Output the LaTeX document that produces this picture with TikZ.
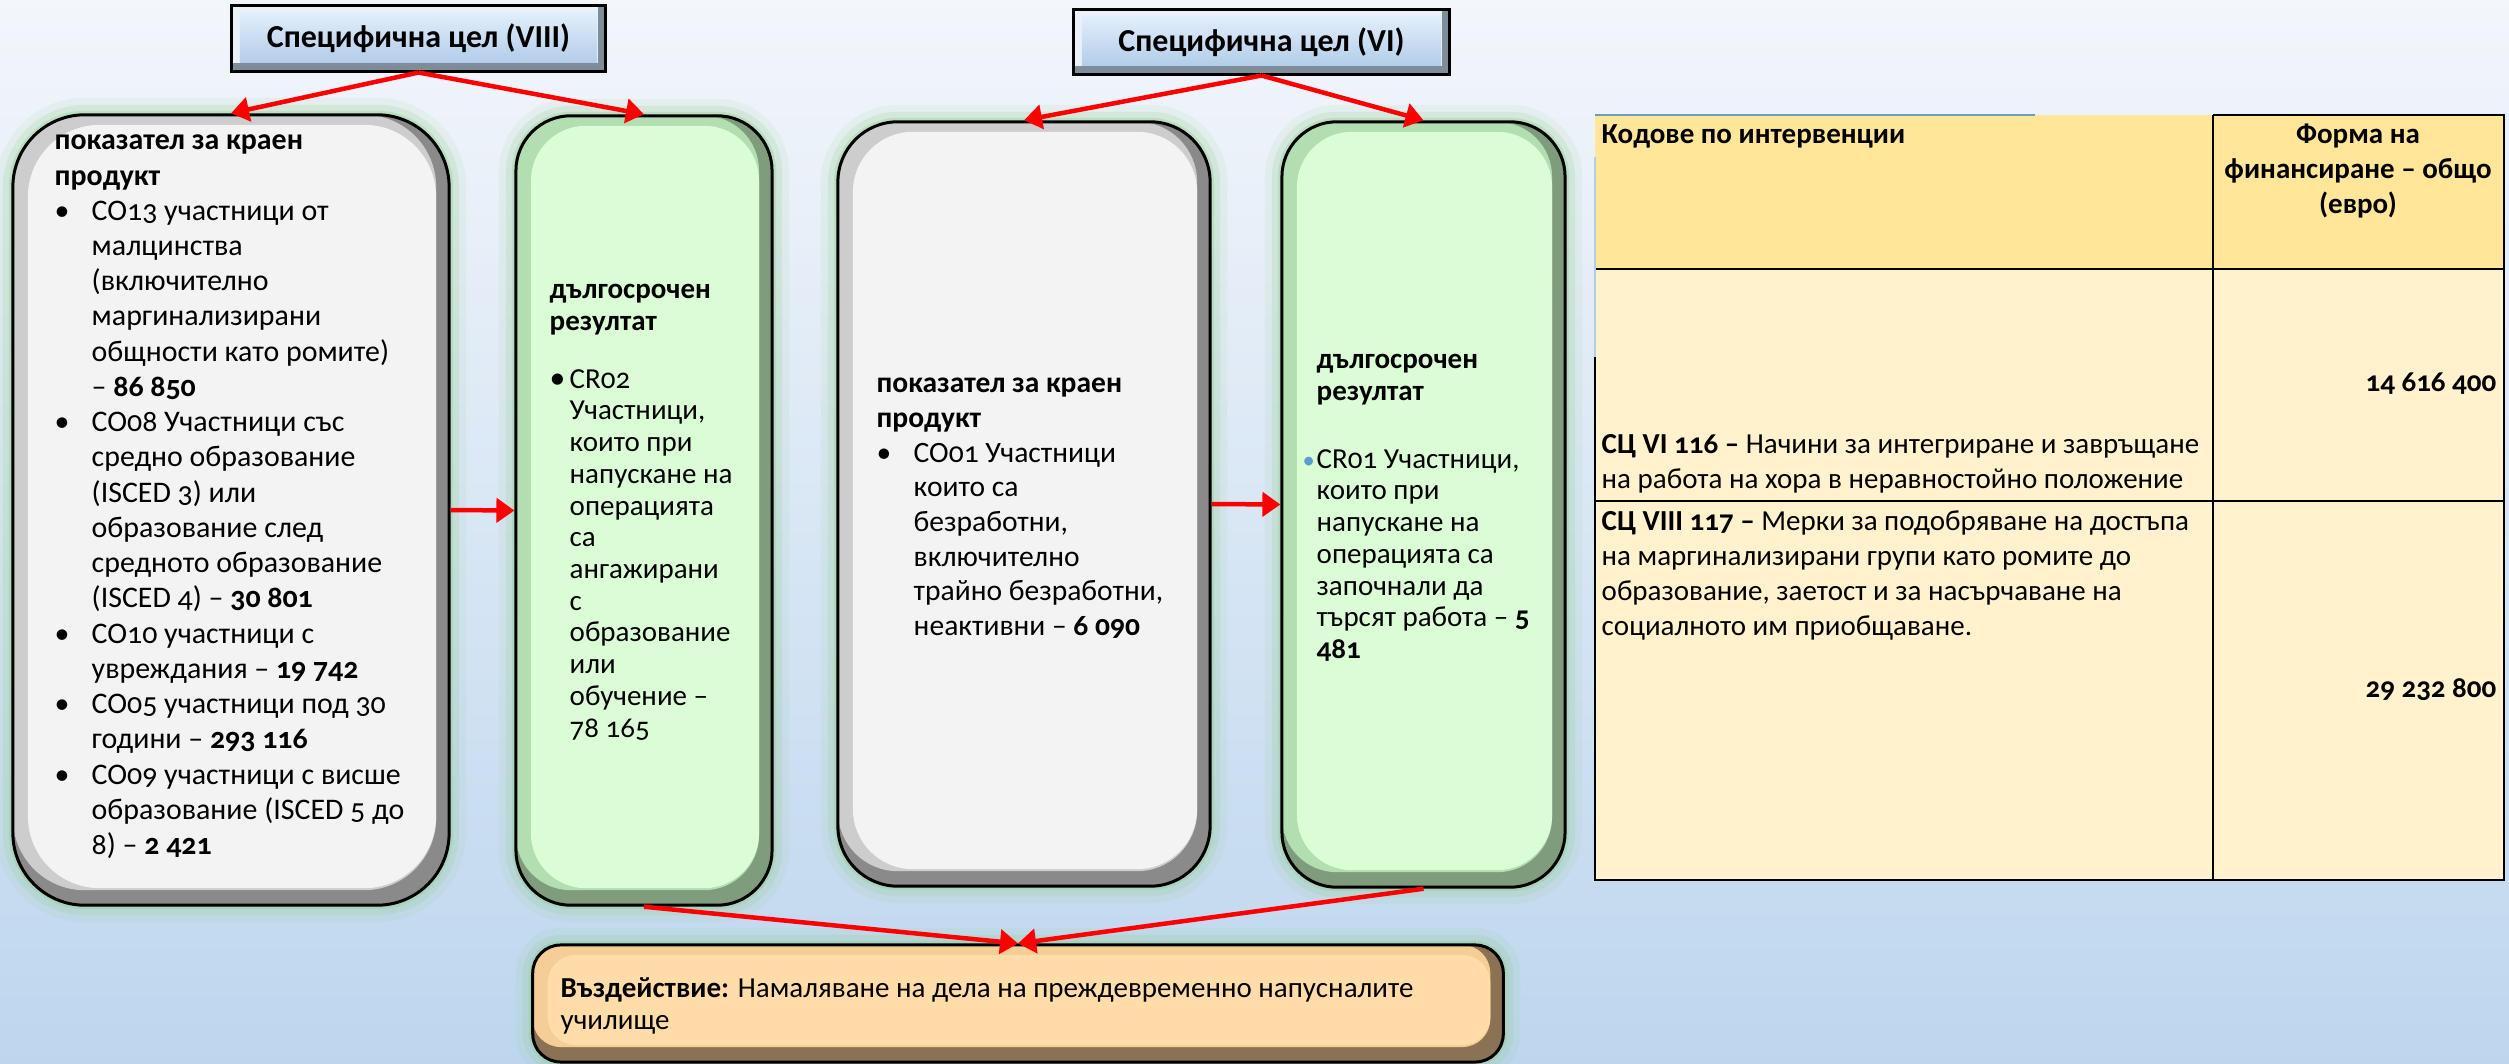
\documentclass[tikz,border=0pt]{standalone}
\usepackage{fontspec}
\setmainfont{Carlito}[Numbers=OldStyle]
\usetikzlibrary{arrows.meta}

\definecolor{bgtop}{HTML}{F3F6FB}
\definecolor{bgbot}{HTML}{BDD6EE}
\definecolor{glowc}{HTML}{8FCB8A}
\definecolor{grayface}{HTML}{F3F3F3}
\definecolor{graylight}{HTML}{CDCDCD}
\definecolor{graydark}{HTML}{8A8A8A}
\definecolor{greenface}{HTML}{DAFDD6}
\definecolor{greenlight}{HTML}{B3DEB1}
\definecolor{greendark}{HTML}{7F9C7D}
\definecolor{peachface}{HTML}{FFDCA8}
\definecolor{peachlight}{HTML}{F5CD97}
\definecolor{peachdark}{HTML}{8C7254}
\definecolor{goaltop}{HTML}{E1EEFB}
\definecolor{goalbot}{HTML}{B3CDE9}
\definecolor{goallight}{HTML}{EAF1F8}
\definecolor{goaldark}{HTML}{7F8C9A}
\definecolor{hdrfill}{HTML}{FFE699}
\definecolor{cellfill}{HTML}{FFF2CC}
\definecolor{tblue}{HTML}{6A9BC9}
\definecolor{bulblue}{HTML}{5B9BD5}

\newcommand{\bitem}{\makebox[0.37cm][l]{•}}
\newcommand{\bcont}{\hspace*{0.37cm}}
\newcommand{\gitem}{\makebox[0.2cm][l]{{\small•}}}
\newcommand{\gcont}{\hspace*{0.2cm}}

\tikzset{
  glow/.style={preaction={draw=glowc, line width=0.34cm, opacity=0.1},
               preaction={draw=glowc, line width=0.2cm, opacity=0.18},
               preaction={draw=glowc, line width=0.08cm, opacity=0.3}},
  bevel/.style n args={4}{glow, draw=black, line width=0.03cm, fill=#3, rounded corners=#4, inner sep=0pt,
    path picture={
      \fill[#2, rounded corners=#4] ([yshift=0.15cm]path picture bounding box.south west) rectangle ([xshift=-0.13cm]path picture bounding box.north east);
      \fill[#1, rounded corners=#4] ([xshift=0.15cm,yshift=0.17cm]path picture bounding box.south west) rectangle ([xshift=-0.13cm,yshift=-0.1cm]path picture bounding box.north east);}},
  graypanel/.style={bevel={grayface}{graylight}{graydark}{#1}},
  greenpanel/.style={bevel={greenface}{greenlight}{greendark}{#1}},
  peachpanel/.style={bevel={peachface}{peachlight}{peachdark}{#1}},
  goalbox/.style={draw=black, line width=0.03cm, fill=goaldark, inner sep=0pt,
    font=\fontsize{9.1}{10.9}\selectfont\bfseries,
    path picture={
      \fill[goallight] ([yshift=0.08cm]path picture bounding box.south west) rectangle ([xshift=-0.07cm]path picture bounding box.north east);
      \shade[top color=goaltop, bottom color=goalbot] ([xshift=0.08cm,yshift=0.09cm]path picture bounding box.south west) rectangle ([xshift=-0.08cm,yshift=-0.07cm]path picture bounding box.north east);}},
  fnt/.style 2 args={font=\fontsize{#1}{#2}\selectfont},
  txt/.style={align=left, inner sep=0pt, anchor=north west},
  tline/.style={draw=black, line width=0.022cm},
  conn/.style={draw=red, line width=0.045cm, -{Triangle[length=0.18cm,width=0.24cm]}}
}

\begin{document}
\begin{tikzpicture}[x=0.01cm, y=-0.01cm]
	\useasboundingbox (0,0) rectangle (2509,1064);
	\shade[top color=bgtop, bottom color=bgbot] (0,0) rectangle (2509,1064);
	
	% boxes
	\node[goalbox, minimum width=3.73cm, minimum height=0.65cm] (goal8) at (418.5,38.5) {Специфична цел (VIII)};
	\node[goalbox, minimum width=3.75cm, minimum height=0.64cm] (goal6) at (1261.5,42) {Специфична цел (VI)};
	
	\node[graypanel=0.72cm, minimum width=4.36cm, minimum height=7.90cm] (ind8) at (231,510) {};
	\node[greenpanel=0.55cm, minimum width=2.56cm, minimum height=7.89cm] (res8) at (644,510.5) {};
	\node[graypanel=0.6cm, minimum width=3.72cm, minimum height=7.64cm] (ind6) at (1024,504) {};
	\node[greenpanel=0.55cm, minimum width=2.83cm, minimum height=7.65cm] (res6) at (1423.5,504.5) {};
	\node[peachpanel=0.28cm, minimum width=9.70cm, minimum height=1.17cm] (impact) at (1018,1003.5) {};
	
	\node[txt, fnt={8.5}{10.02}] (ind8txt) at (54,124.4) {\strut\textbf{показател за краен}\\
		\textbf{продукт}\\
		\bitem CO13 участници от\\
		\bcont малцинства\\
		\bcont (включително\\
		\bcont маргинализирани\\
		\bcont общности като ромите)\\
		\bcont – \textbf{86 850}\\
		\bitem CO08 Участници със\\
		\bcont средно образование\\
		\bcont (ISCED 3) или\\
		\bcont образование след\\
		\bcont средното образование\\
		\bcont (ISCED 4) – \textbf{30 801}\\
		\bitem CO10 участници с\\
		\bcont увреждания – \textbf{19 742}\\
		\bitem CO05 участници под 30\\
		\bcont години – \textbf{293 116}\\
		\bitem CO09 участници с висше\\
		\bcont образование (ISCED 5 до\\
		\bcont 8) – \textbf{2 421}};
	
	\node[txt, fnt={8.25}{9.02}] (res8txt) at (549,275.8) {\strut\textbf{дългосрочен}\\
		\textbf{резултат}\\[0.26cm]
		\gitem CR02\\
		\gcont Участници,\\
		\gcont които при\\
		\gcont напускане на\\
		\gcont операцията\\
		\gcont са\\
		\gcont ангажирани\\
		\gcont с\\
		\gcont образование\\
		\gcont или\\
		\gcont обучение –\\
		\gcont 78 165};
	
	\node[txt, fnt={8.4}{9.87}] (ind6txt) at (876,367.7) {\strut\textbf{показател за краен}\\
		\textbf{продукт}\\
		\bitem CO01 Участници\\
		\bcont които са\\
		\bcont безработни,\\
		\bcont включително\\
		\bcont трайно безработни,\\
		\bcont неактивни – \textbf{6 090}};
	
	\node[txt, fnt={8.25}{9.02}] (res6txt) at (1302,345.8) {\strut\hspace*{0.14cm}\textbf{дългосрочен}\\
		\hspace*{0.14cm}\textbf{резултат}\\[0.36cm]
		\makebox[0.14cm][l]{\textcolor{bulblue}{\scriptsize•}}CR01 Участници,\\
		\hspace*{0.14cm}които при\\
		\hspace*{0.14cm}напускане на\\
		\hspace*{0.14cm}операцията са\\
		\hspace*{0.14cm}започнали да\\
		\hspace*{0.14cm}търсят работа – \textbf{5}\\
		\hspace*{0.14cm}\textbf{481}};
	
	\node[txt, fnt={8.25}{9.02}] (impacttxt) at (560,974.8) {\strut\textbf{Въздействие:} Намаляване на дела на преждевременно напусналите\\
		училище};
	
	% table
	\fill[hdrfill] (1595,115) rectangle (2504,269);
	\fill[cellfill] (1595,269) rectangle (2504,880);
	\draw[tline] (2213,115) -- (2504,115) -- (2504,880) -- (1595,880) -- (1595,357);
	\draw[tline] (1595,269) -- (2504,269);
	\draw[tline] (1595,501) -- (2504,501);
	\draw[tline] (2213,115) -- (2213,880);
	\draw[draw=tblue, line width=0.015cm] (1595,115) -- (2035,115);
	\draw[draw=tblue!50, line width=0.015cm] (1595,157) -- (1595,357);
	
	\node[txt, fnt={8.25}{9.96}] (hdrcodes) at (1601,118.5) {\strut\textbf{Кодове по интервенции}};
	\node[align=center, inner sep=0pt, anchor=north, fnt={8.25}{9.96}] (hdrform) at (2358,118.5) {\strut\textbf{Форма на}\\ \textbf{финансиране – общо}\\ \textbf{(евро)}};
	\node[txt, fnt={8.25}{9.96}] (code6) at (1601,428.5) {\strut\textbf{СЦ VI 116 –} Начини за интегриране и завръщане\\
		на работа на хора в неравностойно положение};
	\node[txt, fnt={8.25}{9.96}] (code8) at (1601,505.5) {\strut\textbf{СЦ VIII 117 –} Мерки за подобряване на достъпа\\
		на маргинализирани групи като ромите до\\
		образование, заетост и за насърчаване на\\
		социалното им приобщаване.};
	\node[anchor=base east, inner sep=0pt, fnt={8.25}{9.96}] (sum6) at (2497,392) {\textbf{14 616 400}};
	\node[anchor=base east, inner sep=0pt, fnt={8.25}{9.96}] (sum8) at (2497,697) {\textbf{29 232 800}};
	
	% arrows
	\draw[conn] (goal8.south) -- (ind8.north);
	\draw[conn] (goal8.south) -- (res8.north);
	\draw[conn] (goal6.south) -- (ind6.north);
	\draw[conn] (goal6.south) -- (res6.north);
	\draw[conn] (ind8.east) -- (res8.west);
	\draw[conn] (ind6.east) -- (res6.west);
	\draw[conn] (res8.south) -- (impact.north);
	\draw[conn] (res6.south) -- (impact.north);
\end{tikzpicture}
\end{document}
